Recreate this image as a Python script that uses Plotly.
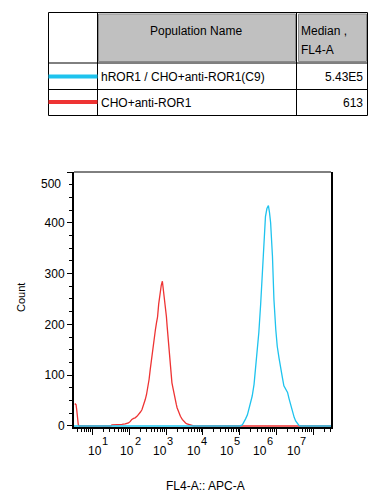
import numpy as np
import plotly.graph_objects as go

# ---------------- data ----------------
# log10(FL4-A) positions and counts
red_log = [0.52, 0.555, 0.574, 0.60, 0.617, 0.65, 1.0, 1.5, 1.53, 1.6, 1.71, 1.8, 1.89, 1.98,
           2.03, 2.07, 2.12, 2.16, 2.21, 2.25, 2.30, 2.345, 2.39, 2.435, 2.47, 2.50, 2.54, 2.57,
           2.61, 2.64, 2.68, 2.71, 2.74, 2.77, 2.80, 2.82, 2.85, 2.87, 2.90, 2.93, 2.96, 2.98,
           3.01, 3.03, 3.05, 3.07, 3.10, 3.12, 3.14, 3.16, 3.19, 3.21, 3.23, 3.25, 3.28, 3.30,
           3.35, 3.39, 3.44, 3.48, 3.53, 3.57, 3.64, 3.71, 3.75, 4.5, 5.0, 7.48]
red_counts = [44, 42, 32, 13, 2, 0, 0, 0, 2, 2, 3, 3, 4, 6,
              9, 13, 15, 16, 19, 22, 27, 32, 41, 52, 62, 72, 92, 111,
              135, 157, 175, 189, 203, 215, 240, 254, 270, 277, 285, 268, 250, 235,
              215, 196, 178, 157, 135, 117, 100, 85, 74, 65, 56, 49, 42, 36,
              26, 19, 13, 9, 6, 4, 2, 1, 0, 0, 0, 0]

cyan_log = [0.5, 5.0, 5.07, 5.12, 5.16, 5.21, 5.25, 5.30, 5.34, 5.39, 5.43, 5.48, 5.52, 5.57,
            5.61, 5.66, 5.70, 5.74, 5.78, 5.81, 5.84, 5.89, 5.93, 5.98, 6.02, 6.07, 6.11, 6.16,
            6.20, 6.25, 6.30, 6.34, 6.39, 6.43, 6.48, 6.52, 6.57, 6.61, 6.65, 7.48]
cyan_counts = [0, 0, 2, 8, 14, 22, 33, 45, 59, 82, 112, 145, 184, 240,
               301, 373, 412, 428, 434, 420, 400, 334, 249, 190, 157, 133, 112, 95,
               79, 72, 66, 54, 40, 28, 17, 10, 4, 1, 0, 0]

population_names = ["hROR1 / CHO+anti-ROR1(C9)", "CHO+anti-ROR1"]
medians = ["5.43E5", "613"]
series_colors = ["#1EC3EE", "#EE3333"]

x_exponents = [1, 2, 3, 4, 5, 6, 7]
y_ticks = [0, 100, 200, 300, 400, 500]

# ---------------- layout helpers ----------------
# the page body has an 8px margin, so the figure is 8px smaller and all
# reference pixel positions are measured from the window corner
OFF = 8
W, H = 380 - OFF, 504 - OFF
L, R, T, B = 74, 331, 172, 427      # plot box in window pixels
FONT = "Liberation Sans, Arial, sans-serif"


def px(x):
    return (x - L) / (R - L)


def py(y):
    return (B - y) / (B - T)


fig = go.Figure()
fig.add_trace(go.Scatter(x=np.power(10.0, red_log), y=red_counts, mode="lines",
                         line=dict(color=series_colors[1], width=1.3), showlegend=False,
                         hoverinfo="skip"))
fig.add_trace(go.Scatter(x=np.power(10.0, cyan_log), y=cyan_counts, mode="lines",
                         line=dict(color=series_colors[0], width=1.3), showlegend=False,
                         hoverinfo="skip"))

fig.update_layout(
    width=W, height=H,
    margin=dict(l=L - OFF, r=380 - R, t=T - OFF, b=504 - B, pad=0),
    paper_bgcolor="white", plot_bgcolor="white",
    font=dict(family=FONT, size=12, color="black"),
    showlegend=False,
)

fig.update_xaxes(
    type="log", range=[0.5, 7.48],
    showgrid=False, zeroline=False,
    showline=True, linecolor="black", linewidth=2,
    tickvals=[10.0 ** e for e in x_exponents], showticklabels=False,
    ticks="outside", ticklen=6, tickwidth=1, tickcolor="black",
    minor=dict(ticks="outside", ticklen=3, tickwidth=1, tickcolor="black", dtick="D1",
               showgrid=False),
)
fig.update_yaxes(
    range=[-2, 500],
    showgrid=False, zeroline=False,
    showline=True, linecolor="black", linewidth=2, mirror=True,
    tickvals=y_ticks, ticktext=[str(v) for v in y_ticks[:-1]] + [""],
    ticks="outside", ticklen=5, tickwidth=1, tickcolor="black",
    tickfont=dict(size=12, family=FONT),
    minor=dict(ticks="outside", ticklen=3, tickwidth=1, tickcolor="black", dtick=25,
               showgrid=False),
)

shapes = []
ann = []

# top border of the plot box (thin)
shapes.append(dict(type="line", xref="paper", yref="paper", x0=0, x1=1, y0=1, y1=1,
                   line=dict(color="black", width=1)))

# "500" label sits inside, below the top tick
ann.append(dict(xref="paper", yref="paper", x=px(63), y=py(183.5), text=str(y_ticks[-1]),
                showarrow=False, xanchor="right", yanchor="middle",
                font=dict(size=12, family=FONT)))

# x tick labels: "10" plus exponent
label_10_x = [94.7, 127.2, 160.2, 193.8, 227.2, 260.2, 293.5]
label_exp_x = [104.7, 138.3, 170.0, 204.0, 236.7, 270.0, 303.3]
for e, xa, xb in zip(x_exponents, label_10_x, label_exp_x):
    ann.append(dict(xref="paper", yref="paper", x=px(xa), y=py(451), text="10",
                    showarrow=False, xanchor="center", yanchor="middle",
                    font=dict(size=12, family=FONT)))
    ann.append(dict(xref="paper", yref="paper", x=px(xb), y=py(441), text=str(e),
                    showarrow=False, xanchor="center", yanchor="middle",
                    font=dict(size=11, family=FONT)))

# axis titles
ann.append(dict(xref="paper", yref="paper", x=px(205), y=py(486), text="FL4-A:: APC-A",
                showarrow=False, xanchor="center", yanchor="middle",
                font=dict(size=12, family=FONT)))
ann.append(dict(xref="paper", yref="paper", x=px(21), y=py(298), text="Count",
                showarrow=False, xanchor="center", yanchor="middle", textangle=-90,
                font=dict(size=11, family=FONT)))

# ---------------- table ----------------
tx0, tx1, tx2, tx3 = 48.5, 97.5, 296.5, 367.5
ty0, ty1, ty2, ty3 = 12.5, 63, 89.5, 115.5

# gray header cells
for gx0, gx1 in [(98.5, 295.5), (298.5, 366.5)]:
    shapes.append(dict(type="rect", xref="paper", yref="paper",
                       x0=px(gx0), x1=px(gx1), y0=py(61.5), y1=py(14),
                       fillcolor="#C0C0C0", line=dict(color="#8A8A8A", width=1)))

for yy in [ty0, ty1, ty2, ty3]:
    shapes.append(dict(type="line", xref="paper", yref="paper",
                       x0=px(tx0), x1=px(tx3), y0=py(yy), y1=py(yy),
                       line=dict(color="black", width=1)))
for xx in [tx0, tx1, tx2, tx3]:
    shapes.append(dict(type="line", xref="paper", yref="paper",
                       x0=px(xx), x1=px(xx), y0=py(ty0), y1=py(ty3),
                       line=dict(color="black", width=1)))

# colour swatches
for col, yy in zip(series_colors, [76.5, 102]):
    shapes.append(dict(type="line", xref="paper", yref="paper",
                       x0=px(tx0), x1=px(tx1), y0=py(yy), y1=py(yy),
                       line=dict(color=col, width=4)))

ann.append(dict(xref="paper", yref="paper", x=px(196), y=py(31), text="Population Name",
                showarrow=False, xanchor="center", yanchor="middle",
                font=dict(size=12, family=FONT)))
ann.append(dict(xref="paper", yref="paper", x=px(298.5), y=py(31), text="Median ,",
                showarrow=False, xanchor="left", yanchor="middle",
                font=dict(size=12, family=FONT)))
ann.append(dict(xref="paper", yref="paper", x=px(298.5), y=py(50), text="FL4-A",
                showarrow=False, xanchor="left", yanchor="middle",
                font=dict(size=12, family=FONT)))
for name, med, yy in zip(population_names, medians, [77, 103]):
    ann.append(dict(xref="paper", yref="paper", x=px(98.5), y=py(yy), text=name,
                    showarrow=False, xanchor="left", yanchor="middle",
                    font=dict(size=12, family=FONT)))
    ann.append(dict(xref="paper", yref="paper", x=px(364.5), y=py(yy), text=med,
                    showarrow=False, xanchor="right", yanchor="middle",
                    font=dict(size=12, family=FONT)))

fig.update_layout(shapes=shapes, annotations=ann)
fig.write_html("out.html")
